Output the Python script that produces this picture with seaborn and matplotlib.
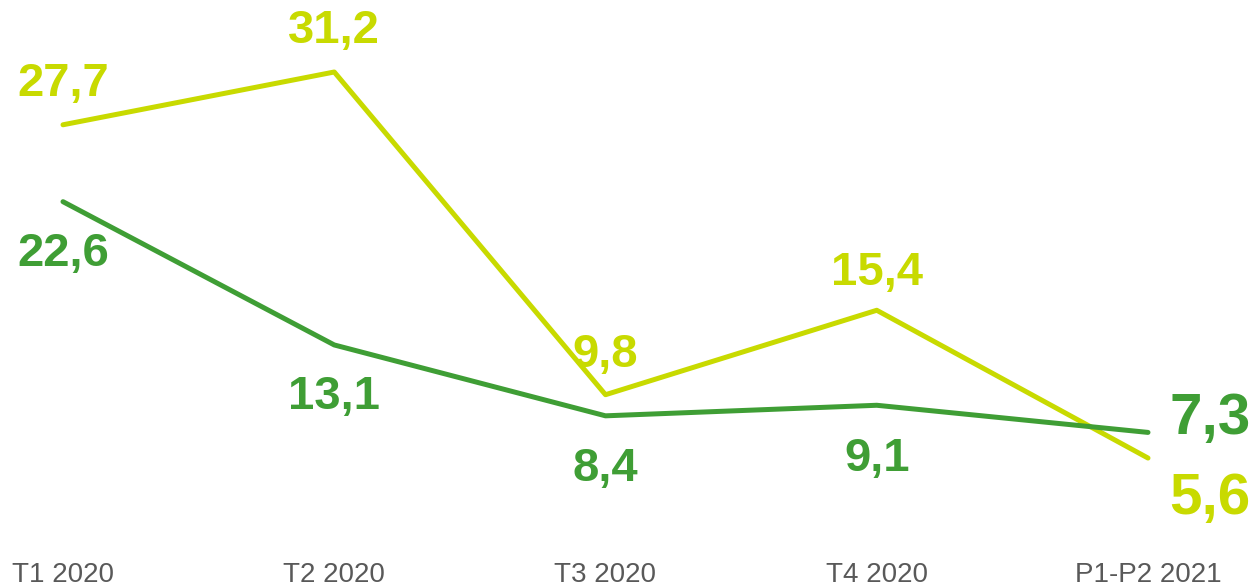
"""Line chart, two series, T1 2020 to P1-P2 2021."""

import matplotlib.pyplot as plt
import pandas as pd
import seaborn as sns

sns.set_theme(style="white")
plt.rcParams["font.family"] = ["Liberation Sans", "DejaVu Sans"]

periods = ["T1 2020", "T2 2020", "T3 2020", "T4 2020", "P1-P2 2021"]
light_values = [27.7, 31.2, 9.8, 15.4, 5.6]
dark_values = [22.6, 13.1, 8.4, 9.1, 7.3]

LIGHT = "#C8DA00"
DARK = "#3F9E35"

df = pd.DataFrame(
    {
        "period": periods * 2,
        "x": list(range(len(periods))) * 2,
        "value": light_values + dark_values,
        "serie": ["light"] * len(periods) + ["dark"] * len(periods),
    }
)

fig = plt.figure(figsize=(12.56, 5.88), dpi=100)
ax = fig.add_axes([63 / 1256, 45.5 / 588, (1148 - 63) / 1256, 470.5 / 588])

sns.lineplot(
    data=df,
    x="x",
    y="value",
    hue="serie",
    palette={"light": LIGHT, "dark": DARK},
    linewidth=3.6,
    legend=False,
    ax=ax,
)
for line in ax.lines:
    line.set_solid_capstyle("round")
    line.set_solid_joinstyle("round")
    line.set_clip_on(False)

ax.set_xlim(0, len(periods) - 1)
ax.set_ylim(0, max(light_values))
ax.set_xticks(range(len(periods)))
ax.set_xticklabels(periods, fontsize=20, color="#595959")
ax.tick_params(axis="x", length=0, pad=14)
ax.set_yticks([])
ax.set_xlabel("")
ax.set_ylabel("")
sns.despine(ax=ax, left=True, bottom=True)

# label offsets in pixels (dx, dy) per point
light_off = [(0, 41), (0, 41), (0, 40), (0, 37), (62, -41)]
dark_off = [(0, -52), (0, -52), (0, -53), (0, -54), (62, 13)]

for i, (lv, dv) in enumerate(zip(light_values, dark_values)):
    last = i == len(periods) - 1
    size = 42 if last else 34
    ax.annotate(
        f"{lv:.1f}".replace(".", ","),
        (i, lv),
        xytext=light_off[i],
        textcoords="offset pixels",
        ha="center",
        va="center",
        fontsize=size,
        fontweight="bold",
        color=LIGHT,
        annotation_clip=False,
    )
    ax.annotate(
        f"{dv:.1f}".replace(".", ","),
        (i, dv),
        xytext=dark_off[i],
        textcoords="offset pixels",
        ha="center",
        va="center",
        fontsize=size,
        fontweight="bold",
        color=DARK,
        annotation_clip=False,
    )

fig.savefig("out.png", dpi=100)
plt.close(fig)
